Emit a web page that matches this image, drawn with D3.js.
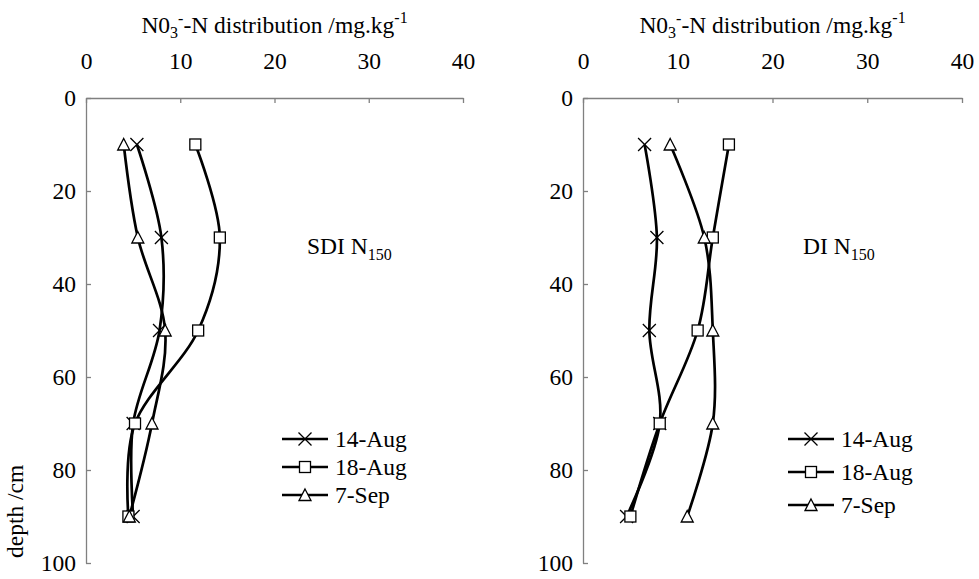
<!DOCTYPE html>
<html>
<head>
<meta charset="utf-8">
<script src="https://cdn.jsdelivr.net/npm/d3@7"></script>
<style>
  body { margin: 0; background: #fff; }
  svg text { font-family: "Liberation Serif", "Times New Roman", serif; fill: #000; }
</style>
</head>
<body>
<div id="chart"></div>
<script>
// depths sampled (cm)
const depths = [10, 30, 50, 70, 90]
const seriesNames = ['14-Aug', '18-Aug', '7-Sep']
const seriesMarks = ['x', 'square', 'triangle']

// SDI N150 panel, NO3-N mg/kg
const sdiAug14 = [5.4, 8.0, 7.8, 5.0, 5.0]
const sdiAug18 = [11.6, 14.2, 11.9, 5.2, 4.5]
const sdiSep7 = [4.0, 5.5, 8.4, 7.0, 4.6]

// DI N150 panel
const diAug14 = [6.5, 7.8, 7.0, 8.1, 4.6]
const diAug18 = [15.4, 13.7, 12.1, 8.1, 5.0]
const diSep7 = [9.2, 12.8, 13.7, 13.7, 11.0]

const xTicks = [0, 10, 20, 30, 40]
const yTicks = [0, 20, 40, 60, 80, 100]

const W = 979
const H = 579
const fontSize = 23.5
const smallSize = 16
const serif = '"Liberation Serif", "Times New Roman", serif'
const axisColor = '#808080'

const panels = [
  {label: 'SDI', series: [sdiAug14, sdiAug18, sdiSep7], left: 86, right: 463,
    labelX: 307, legendX: 282, legendY: [439, 467, 495], depthLabel: true},
  {label: 'DI', series: [diAug14, diAug18, diSep7], left: 583, right: 962,
    labelX: 803, legendX: 788, legendY: [439, 472, 505], depthLabel: false}
]
const plotTop = 98
const plotBottom = 563

const svg = d3.select('#chart').append('svg')
  .attr('width', W)
  .attr('height', H)

function drawMarker (g, type, x, y) {
  if (type === 'x') {
    let s = 6.5
    g.append('path')
      .attr('d', `M${x - s},${y - s}L${x + s},${y + s}M${x - s},${y + s}L${x + s},${y - s}`)
      .attr('stroke', '#000')
      .attr('stroke-width', 1.3)
      .attr('fill', 'none')
  } else if (type === 'square') {
    let s = 5.5
    g.append('rect')
      .attr('x', x - s)
      .attr('y', y - s)
      .attr('width', 2 * s)
      .attr('height', 2 * s)
      .attr('fill', '#fff')
      .attr('stroke', '#000')
      .attr('stroke-width', 1.3)
  } else {
    let s = 6
    g.append('path')
      .attr('d', `M${x},${y - s}L${x + s},${y + s - 0.5}L${x - s},${y + s - 0.5}Z`)
      .attr('fill', '#fff')
      .attr('stroke', '#000')
      .attr('stroke-width', 1.3)
  }
}

panels.forEach((p) => {
  let xs = d3.scaleLinear().domain([0, 40]).range([p.left, p.right])
  let ys = d3.scaleLinear().domain([0, 100]).range([plotTop, plotBottom])
  let g = svg.append('g')

  // top x axis, ticks pointing into the plot
  let xAxis = g.append('g')
    .attr('transform', `translate(0,${plotTop})`)
    .call(d3.axisTop(xs).tickValues(xTicks).tickSizeInner(-5).tickSizeOuter(0).tickPadding(29))
  let yAxis = g.append('g')
    .attr('transform', `translate(${p.left},0)`)
    .call(d3.axisLeft(ys).tickValues(yTicks).tickSizeInner(-5).tickSizeOuter(0).tickPadding(10))
  ;[xAxis, yAxis].forEach((a) => {
    a.attr('font-family', serif).attr('font-size', fontSize)
    a.select('.domain').attr('stroke', axisColor).attr('stroke-width', 1.3)
    a.selectAll('.tick line').attr('stroke', axisColor).attr('stroke-width', 1.3)
    a.selectAll('.tick text')
      .style('font-size', fontSize + 'px')
      .style('font-family', serif)
      .attr('fill', '#000')
  })

  // axis title
  let title = g.append('text')
    .attr('x', (p.left + p.right) / 2)
    .attr('y', 33)
    .attr('text-anchor', 'middle')
    .style('font-size', fontSize + 'px')
  title.append('tspan').text('N0')
  title.append('tspan').attr('dy', 5).style('font-size', smallSize + 'px').text('3')
  title.append('tspan').attr('dy', -14).style('font-size', smallSize + 'px').text('-')
  title.append('tspan').attr('dy', 9).text('-N distribution /mg.kg')
  title.append('tspan').attr('dy', -10).style('font-size', smallSize + 'px').text('-1')

  if (p.depthLabel) {
    g.append('text')
      .attr('transform', 'translate(23,558) rotate(-90)')
      .style('font-size', fontSize + 'px')
      .text('depth /cm')
  }

  // treatment label
  let lab = g.append('text')
    .attr('x', p.labelX)
    .attr('y', 254)
    .style('font-size', fontSize + 'px')
  lab.append('tspan').text(p.label + ' N')
  lab.append('tspan').attr('dy', 6).style('font-size', smallSize + 'px').text('150')

  // smoothed series lines
  let line = d3.line()
    .x((d) => xs(d[0]))
    .y((d) => ys(d[1]))
    .curve(d3.curveCatmullRom.alpha(0))
  p.series.forEach((vals) => {
    let pts = vals.map((v, j) => [v, depths[j]])
    g.append('path')
      .attr('d', line(pts))
      .attr('fill', 'none')
      .attr('stroke', '#000')
      .attr('stroke-width', 2.7)
  })
  p.series.forEach((vals, i) => {
    vals.forEach((v, j) => drawMarker(g, seriesMarks[i], xs(v), ys(depths[j])))
  })

  // legend
  seriesNames.forEach((name, i) => {
    let y = p.legendY[i]
    g.append('line')
      .attr('x1', p.legendX)
      .attr('x2', p.legendX + 46)
      .attr('y1', y)
      .attr('y2', y)
      .attr('stroke', '#000')
      .attr('stroke-width', 2.7)
    drawMarker(g, seriesMarks[i], p.legendX + 23, y)
    g.append('text')
      .attr('x', p.legendX + 53)
      .attr('y', y + 8)
      .style('font-size', fontSize + 'px')
      .text(name)
  })
})
</script>
</body>
</html>
